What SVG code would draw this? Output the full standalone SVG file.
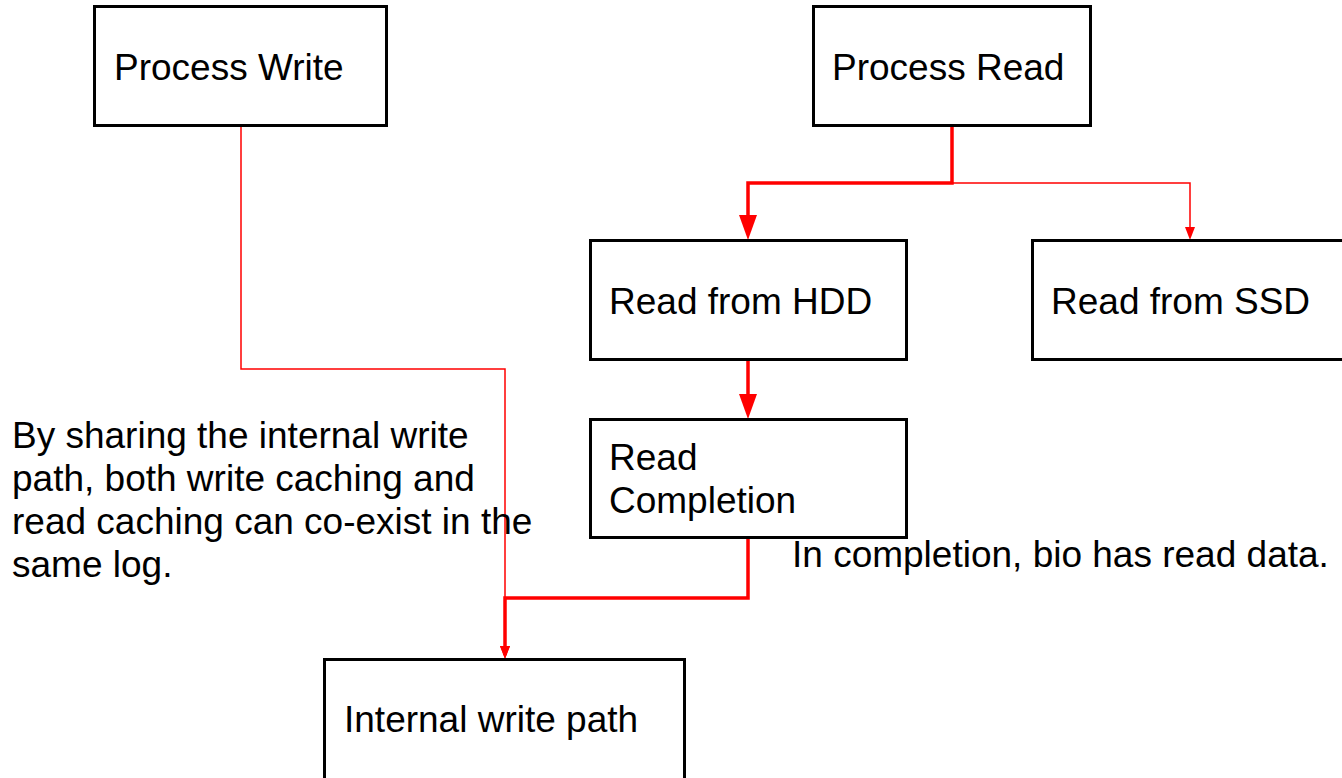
<svg xmlns="http://www.w3.org/2000/svg" width="1342" height="778" viewBox="0 0 1342 778">
<style>
.box{fill:#fff;stroke:#000;stroke-width:3}
.t{font-family:"Liberation Sans",Arial,sans-serif;font-size:37px;fill:#000}
.thick{fill:none;stroke:#f00;stroke-width:3.5}
.thin{fill:none;stroke:#f00;stroke-width:1.5}
</style>
<defs>
<marker id="big" markerUnits="userSpaceOnUse" markerWidth="26" markerHeight="20" viewBox="0 0 26 20" refX="18" refY="10" orient="auto"><path d="M0,1 L25,10 L0,19 z" fill="#f00"/></marker>
<marker id="small" markerUnits="userSpaceOnUse" markerWidth="14" markerHeight="12" viewBox="0 0 14 12" refX="9" refY="6" orient="auto"><path d="M0,1 L13,6 L0,11 z" fill="#f00"/></marker>
</defs>
<g id="connectors">
<path class="thin" d="M241,125 V369 H505 V655" marker-end="url(#small)"/>
<path class="thick" d="M952,125 V183 H748 V233" marker-end="url(#big)"/>
<path class="thin" d="M952,183 H1190 V236" marker-end="url(#small)"/>
<path class="thick" d="M748,359 V412" marker-end="url(#big)"/>
<path class="thick" d="M748,537 V598 H505 V655" marker-end="url(#small)"/>
</g>
<g id="process-write"><rect class="box" x="94.5" y="6.5" width="292" height="119"/><text class="t" x="114" y="80">Process Write</text></g>
<g id="process-read"><rect class="box" x="813.5" y="6.5" width="277" height="119"/><text class="t" x="832" y="80">Process Read</text></g>
<g id="read-hdd"><rect class="box" x="590.5" y="240.5" width="316" height="119"/><text class="t" x="609" y="314">Read from HDD</text></g>
<g id="read-ssd"><rect class="box" x="1032.5" y="240.5" width="330" height="119"/><text class="t" x="1051" y="314">Read from SSD</text></g>
<g id="read-completion"><rect class="box" x="590.5" y="419.5" width="316" height="118"/><text class="t" x="609" y="470">Read</text><text class="t" x="609" y="513">Completion</text></g>
<g id="internal-write"><rect class="box" x="324.5" y="659.5" width="360" height="140"/><text class="t" x="344" y="732">Internal write path</text></g>
<g id="note-left"><text class="t" x="12" y="448">By sharing the internal write</text><text class="t" x="12" y="491">path, both write caching and</text><text class="t" x="12" y="534">read caching can co-exist in the</text><text class="t" x="12" y="577">same log.</text></g>
<g id="note-right"><text class="t" x="792" y="567">In completion, bio has read data.</text></g>
</svg>
